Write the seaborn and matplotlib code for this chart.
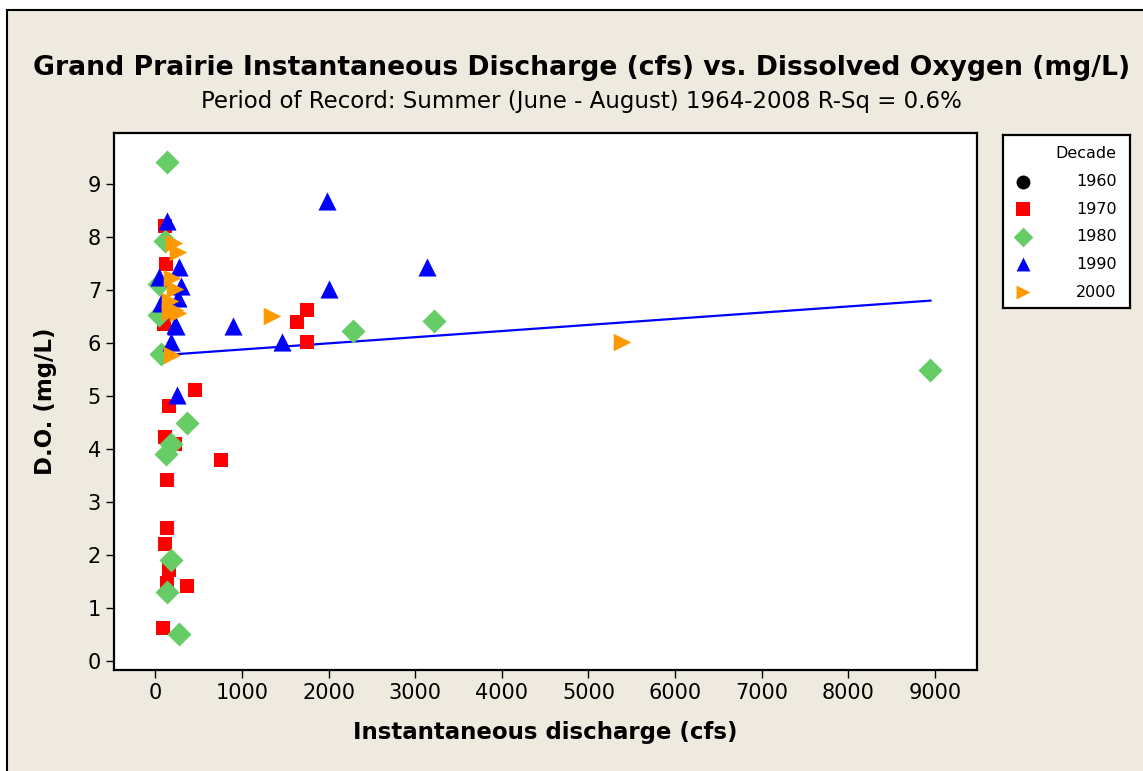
import numpy as np
import pandas as pd
import matplotlib.pyplot as plt
import seaborn as sns
from matplotlib.patches import Rectangle

# legend / group definitions
decades = ['1960', '1970', '1980', '1990', '2000']
colors = ['#000000', '#FF0000', '#66CC66', '#0000FF', '#FF9900']
markers = ['o', 's', 'D', '^', '>']
sizes = [110, 100, 150, 170, 160]

# discharge (cfs) and dissolved oxygen (mg/L) per decade
q1970 = [112, 127, 104, 1634, 1750, 1750, 458, 158, 112, 232, 758, 135, 135, 112, 158, 135, 366, 92]
do1970 = [8.2, 7.49, 6.36, 6.40, 6.62, 6.02, 5.11, 4.81, 4.23, 4.09, 3.79, 3.42, 2.5, 2.2, 1.72, 1.48, 1.42, 0.62]

q1980 = [130, 116, 44, 38, 66, 361, 181, 127, 181, 135, 273, 2280, 3222, 8947]
do1980 = [9.41, 7.92, 7.12, 6.52, 5.80, 4.49, 4.09, 3.90, 1.91, 1.30, 0.51, 6.22, 6.41, 5.49]

q1990 = [139, 1980, 3134, 2003, 900, 1468, 254, 185, 275, 42, 300, 265, 69, 242, 230]
do1990 = [8.30, 8.68, 7.43, 7.02, 6.32, 6.02, 5.02, 6.01, 7.44, 7.25, 7.07, 6.84, 6.75, 6.31, 6.34]

q2000 = [212, 268, 192, 230, 173, 230, 173, 268, 192, 1346, 5386]
do2000 = [7.88, 7.72, 7.22, 7.02, 6.80, 6.62, 6.58, 6.56, 5.77, 6.51, 6.02]

# fitted regression line (R-Sq = 0.6%)
fit_intercept = 5.76
fit_slope = 0.000116

rows = []
for dec, qs, dos in [('1970', q1970, do1970), ('1980', q1980, do1980),
                     ('1990', q1990, do1990), ('2000', q2000, do2000)]:
    for q, d in zip(qs, dos):
        rows.append((dec, q, d))
df = pd.DataFrame(rows, columns=['decade', 'discharge', 'do'])

bg = '#EEEAE0'
fig = plt.figure(figsize=(11.43, 7.71), dpi=100, facecolor='white')
fig.patches.append(Rectangle((7 / 1143, -0.05), 1.1, 1 - 10 / 771 + 0.05,
                             transform=fig.transFigure, facecolor=bg,
                             edgecolor='black', linewidth=1.5, zorder=-10))

ax = fig.add_axes([0.1, 0.131, 0.7545, 0.6965])
ax.set_facecolor('white')

for dec, c, m, s in zip(decades, colors, markers, sizes):
    sub = df[df['decade'] == dec]
    if len(sub) == 0:
        continue
    sns.scatterplot(data=sub, x='discharge', y='do', color=c, marker=m, s=s,
                    linewidth=0, ax=ax, legend=False, zorder=3)

fit_x = np.array([df['discharge'].min(), df['discharge'].max()])
fit_df = pd.DataFrame({'x': fit_x, 'y': fit_intercept + fit_slope * fit_x})
sns.lineplot(data=fit_df, x='x', y='y', color='#0000FF', linewidth=1.6, ax=ax, zorder=2)

ax.set_xlim(-473, 9481)
ax.set_ylim(-0.17, 9.96)
ax.set_xticks(range(0, 10000, 1000))
ax.set_yticks(range(0, 10))
ax.tick_params(direction='out', length=6, width=1, labelsize=15, colors='black')
for sp in ax.spines.values():
    sp.set_linewidth(1.6)
    sp.set_color('black')
ax.set_xlabel('Instantaneous discharge (cfs)', fontsize=16.5, fontweight='bold', va='center')
ax.set_ylabel('D.O. (mg/L)', fontsize=16.5, fontweight='bold', va='center')
ax.xaxis.set_label_coords(0.5, -0.117)
ax.yaxis.set_label_coords(-0.080, 0.5)

fig.text(0.509, 0.912, 'Grand Prairie Instantaneous Discharge (cfs) vs. Dissolved Oxygen (mg/L)',
         ha='center', va='center', fontsize=19.2, fontweight='bold')
fig.text(0.509, 0.869, 'Period of Record: Summer (June - August) 1964-2008 R-Sq = 0.6%',
         ha='center', va='center', fontsize=16.5)

# legend box
lax = fig.add_axes([1003 / 1143, 1 - 308 / 771, 127 / 1143, 173 / 771])
lax.set_xlim(0, 1)
lax.set_ylim(0, 1)
lax.set_xticks([])
lax.set_yticks([])
lax.set_facecolor('white')
for sp in lax.spines.values():
    sp.set_linewidth(1.6)
lax.text(0.895, 0.894, 'Decade', ha='right', va='center', fontsize=11.5)
ys = [0.730, 0.572, 0.412, 0.254, 0.091]
for dec, c, m, y in zip(decades, colors, markers, ys):
    lax.scatter([0.157], [y], marker=m, color=c, s=100, linewidth=0)
    lax.text(0.895, y, dec, ha='right', va='center', fontsize=11.5)

fig.savefig('out.png', dpi=100, facecolor='white')
